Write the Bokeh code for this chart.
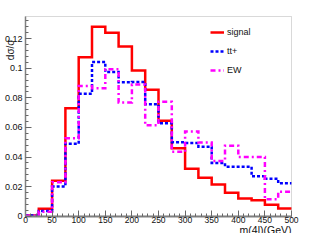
import math
from bokeh.plotting import figure
from bokeh.models import (Range1d, SingleIntervalTicker, CustomJSTickFormatter,
                          Legend, LegendItem, BoxAnnotation)
from bokeh.core.properties import value
from bokeh.embed import file_html
from bokeh.resources import INLINE

# bin edges of m(4l) in GeV
mass_edges = [0, 25, 50, 75, 100, 125, 150, 175, 200, 225, 250,
              275, 300, 325, 350, 375, 400, 425, 450, 475, 500]

signal = [0.0005, 0.005, 0.024, 0.073, 0.1075, 0.128, 0.124, 0.1147, 0.0985, 0.0855,
          0.0645, 0.046, 0.032, 0.026, 0.0215, 0.0158, 0.012, 0.0108, 0.0077, 0.0052]
ttplus = [0.0005, 0.0035, 0.020, 0.049, 0.0828, 0.1042, 0.0975, 0.0905, 0.0908, 0.0756,
          0.0628, 0.050, 0.0495, 0.047, 0.036, 0.0335, 0.0335, 0.027, 0.0253, 0.0222]
ew = [0.0003, 0.003, 0.023, 0.0527, 0.088, 0.0865, 0.0994, 0.0769, 0.089, 0.0615,
      0.0773, 0.0435, 0.0573, 0.0498, 0.0374, 0.0477, 0.040, 0.040, 0.0115, 0.0166]

series_names = ["signal", "tt+", "EW"]
x_title = "m(4l)(GeV)"
y_title = "dσ/σ"

x_lo, x_hi = 0, 500
y_lo, y_hi = 0, 0.135

FONT = "Liberation Sans"
W, H = 316, 233
# axes box inside the canvas (pixels from canvas left / bottom)
box_l, box_r = 25, 291
box_b, box_t = 17.3, 217

sx = (box_r - box_l) / (x_hi - x_lo)
sy = (box_t - box_b) / (y_hi - y_lo)
xr = Range1d(x_lo - box_l / sx, x_hi + (W - box_r) / sx)
yr = Range1d(y_lo - box_b / sy, y_hi + (H - box_t) / sy)


def cx(px):  # canvas pixel (from left) -> data x
    return xr.start + px / sx


def cy(py):  # canvas pixel (from bottom) -> data y
    return yr.start + py / sy


p = figure(width=W, height=H, output_backend="svg", toolbar_location=None,
           x_range=xr, y_range=yr, min_border=0)
p.min_border_left = p.min_border_right = p.min_border_top = p.min_border_bottom = 0
p.background_fill_color = "white"
p.border_fill_color = "white"
p.outline_line_color = None
p.xgrid.visible = False
p.ygrid.visible = False

p.add_layout(BoxAnnotation(left=x_lo, right=x_hi, bottom=y_lo, top=y_hi,
                           fill_alpha=0, line_color="#808080", line_width=1))

p.xaxis.ticker = SingleIntervalTicker(interval=50, num_minor_ticks=5)
p.yaxis.ticker = SingleIntervalTicker(interval=0.02, num_minor_ticks=5)
p.yaxis.formatter = CustomJSTickFormatter(code="var s = tick.toFixed(2); s = s.replace(/0+$/, ''); s = s.replace(/\\.$/, ''); return s;")
p.xaxis.fixed_location = y_lo
p.yaxis.fixed_location = x_lo
p.xaxis.bounds = (x_lo, x_hi)
p.yaxis.bounds = (y_lo, y_hi)

for ax in (p.xaxis[0], p.yaxis[0]):
    ax.axis_line_color = "#808080"
    ax.major_tick_line_color = "#666666"
    ax.minor_tick_line_color = "#666666"
    ax.major_tick_in = 6
    ax.major_tick_out = 0
    ax.minor_tick_in = 3
    ax.minor_tick_out = 0
    ax.major_label_text_font = FONT
    ax.major_label_text_color = "#111111"
p.xaxis.axis_line_width = 2
p.yaxis.axis_line_width = 1.5
p.xaxis.major_label_text_font_size = "8.5px"
p.yaxis.major_label_text_font_size = "9px"
p.xaxis.major_label_standoff = 1
p.yaxis.major_label_standoff = 3

r_sig = p.step(x=mass_edges, y=signal + [signal[-1]], mode="after",
               line_color="#ff0000", line_width=2.5, line_join="miter")
r_tt = p.step(x=mass_edges, y=ttplus + [ttplus[-1]], mode="after",
              line_color="#0000ff", line_width=2.5, line_dash="3 2", line_join="miter")
r_ew = p.step(x=mass_edges, y=ew + [ew[-1]], mode="after",
              line_color="#ff00ff", line_width=2.5, line_dash="5 3 2 3", line_join="miter")

legend = Legend(items=[LegendItem(label=series_names[0], renderers=[r_sig]),
                       LegendItem(label=series_names[1], renderers=[r_tt]),
                       LegendItem(label=series_names[2], renderers=[r_ew])],
                location=(210, 157), padding=0, margin=0, spacing=7,
                glyph_width=14, glyph_height=12, label_height=12, label_standoff=3,
                label_text_font=FONT, label_text_font_size="9px", label_text_color="#111111",
                border_line_alpha=0, background_fill_alpha=0)
p.add_layout(legend)

# axis titles (ROOT style: at the far ends of the axes)
p.text(x=[x_hi], y=[cy(3.8)], text=[x_title], text_align="right",
       text_baseline="alphabetic", text_font=value(FONT), text_font_size="10.5px",
       text_color="#111111")
p.text(x=[cx(9.5)], y=[cy(194)], text=[y_title], angle=math.pi / 2,
       text_align="right", text_baseline="alphabetic", text_font=value(FONT),
       text_font_size="10px", text_color="#111111")

open("out.html", "w").write(file_html(p, INLINE))
